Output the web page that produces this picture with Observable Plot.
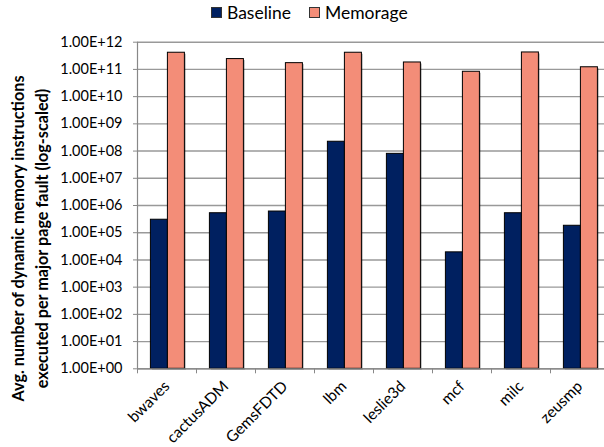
<!DOCTYPE html>
<html>
<head>
<meta charset="utf-8">
<script src="https://cdn.jsdelivr.net/npm/d3@7"></script>
<script src="https://cdn.jsdelivr.net/npm/@observablehq/plot@0.6"></script>
<style>
  body { margin: 0; background: #fff; font-family: Lato, "Open Sans", sans-serif; }
  #wrap { position: relative; width: 604px; height: 447px; overflow: hidden; }
  #legend { position: absolute; left: 0; top: 0; width: 604px; height: 26px; }
  .item { position: absolute; top: 2px; display: flex; align-items: center; font-size: 17.5px; color: #000; }
  .sw { width: 9px; height: 9px; border: 1px solid #333; margin-right: 5px; }
  #chart { position: absolute; left: 0; top: 26px; }
</style>
</head>
<body>
<div id="wrap">
  <div id="legend"></div>
  <div id="chart"></div>
</div>
<script>
const categories = ["bwaves", "cactusADM", "GemsFDTD", "lbm", "leslie3d", "mcf", "milc", "zeusmp"];
const series = ["Baseline", "Memorage"];
const baseline = [3.0e5, 5.2e5, 6.0e5, 2.2e8, 7.9e7, 1.9e4, 5.2e5, 1.8e5];
const memorage = [4.1e11, 2.4e11, 1.7e11, 4.1e11, 1.8e11, 8.2e10, 4.2e11, 1.2e11];
const yTicks = [1e0, 1e1, 1e2, 1e3, 1e4, 1e5, 1e6, 1e7, 1e8, 1e9, 1e10, 1e11, 1e12];
const colors = ["#002060", "#F38D78"];
const yTitle = ["Avg. number of dynamic memory instructions", "executed per major page fault (log-scaled)"];

const fmt = d => "1.00E+" + String(Math.round(Math.log10(d))).padStart(2, "0");

const rows = [];
categories.forEach((c, i) => {
  rows.push({cat: c, series: series[0], value: baseline[i]});
  rows.push({cat: c, series: series[1], value: memorage[i]});
});

// legend
const legend = document.getElementById("legend");
const legendX = [211, 309];
series.forEach((s, i) => {
  const it = document.createElement("div");
  it.className = "item";
  it.style.left = legendX[i] + "px";
  it.innerHTML = `<span class="sw" style="background:${colors[i]}"></span><span>${s}</span>`;
  legend.appendChild(it);
});

const H = 421;
const barOpts = {x: "cat", y1: 1, y2: "value"};
const base = rows.filter(d => d.series === series[0]);
const mem = rows.filter(d => d.series === series[1]);
const chart = Plot.plot({
  width: 604,
  height: H,
  marginTop: 15.7,
  marginBottom: H - 342.3,
  marginLeft: 137,
  marginRight: 0,
  style: {fontFamily: "Lato, 'Open Sans', sans-serif", background: "#fff", overflow: "hidden"},
  x: {domain: categories, range: [137, 609], padding: 0, axis: null},
  y: {type: "log", domain: [1, 1e12], axis: null},
  color: {domain: series, range: colors},
  marks: [
    Plot.gridY(yTicks, {stroke: "#999", strokeOpacity: 1, strokeWidth: 1.4}),
    // soft shadows
    Plot.barY(base, {...barOpts, fill: "#000", fillOpacity: 0.25, insetLeft: 14.9, insetRight: 27.1, dy: 1.5}),
    Plot.barY(mem, {...barOpts, fill: "#000", fillOpacity: 0.25, insetLeft: 31.9, insetRight: 10.1, dy: 1.5}),
    Plot.barY(base, {...barOpts, fill: "series", stroke: "#000", strokeWidth: 1, insetLeft: 13.4, insetRight: 28.6}),
    Plot.barY(mem, {...barOpts, fill: "series", stroke: "#000", strokeWidth: 1, insetLeft: 30.4, insetRight: 11.6}),
    Plot.ruleY([1], {stroke: "#888", strokeWidth: 1.2}),
    Plot.ruleX([categories[0]], {dx: -29.5, stroke: "#888", strokeWidth: 1.2}),
    Plot.axisY({ticks: yTicks, tickFormat: fmt, tickSize: 4, tickPadding: 11, stroke: "#888", fontSize: 14.5, fill: "#000", label: null}),
    Plot.axisX({tickSize: 5, dx: -29.5, tickFormat: () => "", stroke: "#888", label: null}),
    Plot.axisX({tickSize: 0, tickRotate: -45, tickPadding: 15, fontSize: 15.5, fill: "#000", label: null}),
    Plot.text([yTitle.join("\n")], {
      frameAnchor: "left", dx: -109.5, dy: 33, rotate: -90, textAnchor: "middle", lineAnchor: "middle",
      fontWeight: "bold", fontSize: 16.2, lineHeight: 1.52, fill: "#000"
    })
  ]
});
document.getElementById("chart").appendChild(chart);
</script>
</body>
</html>
